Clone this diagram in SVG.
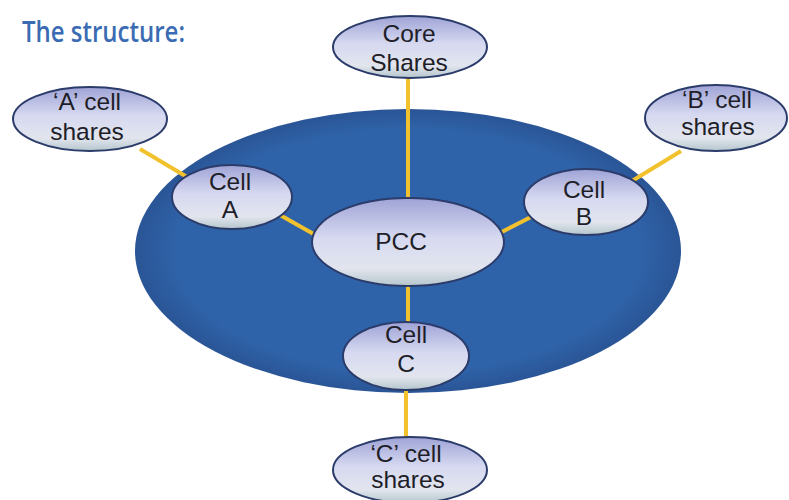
<svg xmlns="http://www.w3.org/2000/svg" width="789" height="500" viewBox="0 0 789 500">
<style>
.node{fill:url(#ng);stroke:#2b3c6b;stroke-width:2}
.lbl{font-family:"Liberation Sans",Arial,sans-serif;font-size:24.5px;fill:#1e1e28;text-anchor:middle}
.con{stroke:#f2c12e;stroke-width:4;fill:none}
.title{font-family:"Open Sans","Lato",sans-serif;font-weight:600;font-size:28px;fill:#3b6cb3}
</style>
<defs>
<linearGradient id="ng" x1="0" y1="0" x2="0" y2="1">
<stop offset="0" stop-color="#9fa3d6"/>
<stop offset="0.45" stop-color="#d6d9f0"/>
<stop offset="0.8" stop-color="#e2e5ee"/>
<stop offset="1" stop-color="#b5c6cc"/>
</linearGradient>
<radialGradient id="bg" cx="0.5" cy="0.5" r="0.5">
<stop offset="0.85" stop-color="#2f63a9"/>
<stop offset="1" stop-color="#2a5596"/>
</radialGradient>
</defs>
<rect width="789" height="500" fill="#ffffff"/>
<text class="title" x="22" y="42" textLength="163" lengthAdjust="spacingAndGlyphs">The structure:</text>
<g id="pcc-boundary"><ellipse cx="408" cy="251" rx="273" ry="142" fill="url(#bg)"/></g>
<g id="connectors">
<line class="con" x1="408" y1="78" x2="408" y2="199"/>
<line class="con" x1="140" y1="149" x2="187" y2="177"/>
<line class="con" x1="280" y1="215" x2="326" y2="241"/>
<line class="con" x1="494" y1="236" x2="531" y2="217"/>
<line class="con" x1="632" y1="181" x2="681" y2="151"/>
<line class="con" x1="408" y1="285" x2="408" y2="323"/>
<line class="con" x1="406" y1="389" x2="406" y2="438"/>
</g>
<g id="core-shares"><ellipse class="node" cx="410" cy="47" rx="77" ry="31"/><text class="lbl" x="409" y="42">Core</text><text class="lbl" x="409" y="71">Shares</text></g>
<g id="a-cell-shares"><ellipse class="node" cx="90" cy="119" rx="77" ry="32"/><text class="lbl" x="87" y="110">‘A’ cell</text><text class="lbl" x="87" y="140">shares</text></g>
<g id="b-cell-shares"><ellipse class="node" cx="716" cy="118" rx="71" ry="33"/><text class="lbl" x="717" y="108">‘B’ cell</text><text class="lbl" x="718" y="135">shares</text></g>
<g id="cell-a"><ellipse class="node" cx="232" cy="197" rx="60" ry="32"/><text class="lbl" x="230" y="190">Cell</text><text class="lbl" x="230" y="218">A</text></g>
<g id="pcc"><ellipse class="node" cx="408" cy="242" rx="96" ry="44"/><text class="lbl" x="401" y="250">PCC</text></g>
<g id="cell-b"><ellipse class="node" cx="586" cy="202" rx="62" ry="33"/><text class="lbl" x="584" y="198">Cell</text><text class="lbl" x="584" y="225">B</text></g>
<g id="cell-c"><ellipse class="node" cx="406" cy="356" rx="63" ry="34"/><text class="lbl" x="406" y="343">Cell</text><text class="lbl" x="406" y="372">C</text></g>
<g id="c-cell-shares"><ellipse class="node" cx="410" cy="470" rx="77" ry="33"/><text class="lbl" x="406" y="462">‘C’ cell</text><text class="lbl" x="408" y="488">shares</text></g>
</svg>
